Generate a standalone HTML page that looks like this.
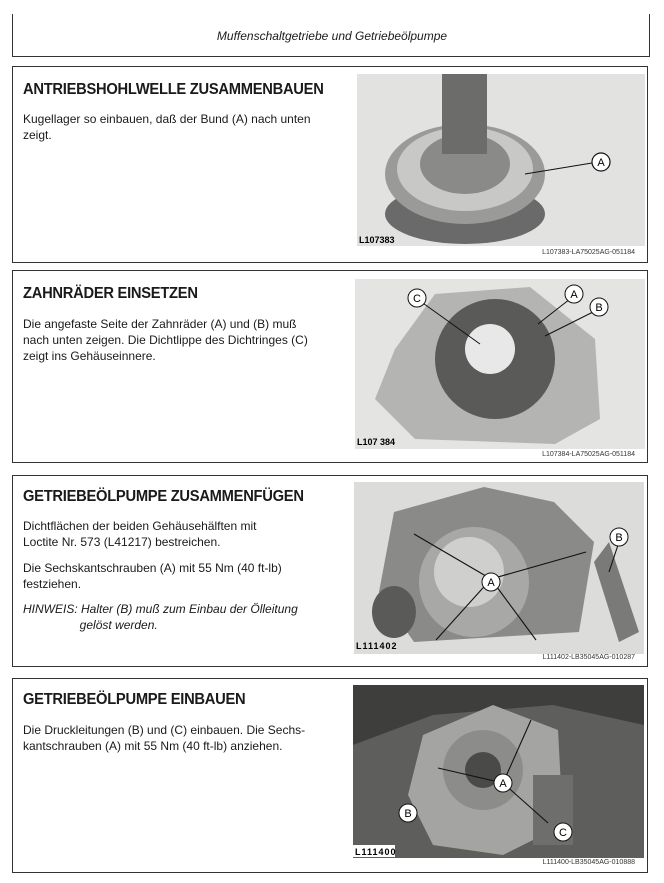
<!DOCTYPE html>
<html><head><meta charset="utf-8"><style>
body{margin:0;width:664px;height:883px;background:#fff;position:relative;overflow:hidden;font-family:"Liberation Sans",Arial,sans-serif;color:#1a1a1a}
.a{position:absolute}
.box{position:absolute;border:1.5px solid #333;left:12px;width:634px}
h2{position:absolute;left:10px;margin:0;font-size:16px;font-weight:bold;letter-spacing:-0.3px;transform:scaleX(0.92);transform-origin:left;white-space:nowrap}
p{position:absolute;left:10px;margin:0;font-size:12px;line-height:16px;width:292px}
.cap{position:absolute;right:12px;font-size:7px;color:#333}
.ph{position:absolute}
</style></head><body>
<div class="a" style="left:12px;top:14px;width:636px;height:42px;border:1.5px solid #333;border-top:none"></div>
<div class="a" style="left:0;width:664px;top:29px;text-align:center;font-style:italic;font-size:12px">Muffenschaltgetriebe und Getriebeölpumpe</div>

<div class="box" style="top:66px;height:195px">
<h2 style="top:14px">ANTRIEBSHOHLWELLE ZUSAMMENBAUEN</h2>
<p style="top:44px">Kugellager so einbauen, daß der Bund (A) nach unten zeigt.</p>
<div class="cap" style="top:182px">L107383-LA75025AG-051184</div>
</div>
<svg class="ph" style="left:357px;top:74px" width="288" height="172">
<rect width="288" height="172" fill="#e2e2e0"/>
<ellipse cx="108" cy="140" rx="80" ry="30" fill="#6a6a6a"/>
<ellipse cx="108" cy="100" rx="80" ry="50" fill="#9a9a98"/>
<ellipse cx="108" cy="95" rx="68" ry="42" fill="#c8c8c6"/>
<ellipse cx="108" cy="90" rx="45" ry="30" fill="#8a8a88"/>
<rect x="85" y="0" width="45" height="80" fill="#6c6c6a"/>
<line x1="168" y1="100" x2="235" y2="89" stroke="#111" stroke-width="1"/>
<circle cx="244" cy="88" r="9" fill="#fff" stroke="#111" stroke-width="1.2"/>
<text x="244" y="92" font-size="11" text-anchor="middle" font-family="Liberation Sans">A</text>
<text x="2" y="169" font-size="9" font-weight="bold" font-family="Liberation Sans">L107383</text>
</svg>

<div class="box" style="top:270px;height:191px">
<h2 style="top:14px">ZAHNRÄDER EINSETZEN</h2>
<p style="top:45px">Die angefaste Seite der Zahnräder (A) und (B) muß nach unten zeigen. Die Dichtlippe des Dichtringes (C) zeigt ins Gehäuseinnere.</p>
<div class="cap" style="top:180px">L107384-LA75025AG-051184</div>
</div>
<svg class="ph" style="left:355px;top:279px" width="290" height="170">
<rect width="290" height="170" fill="#e4e4e2"/>
<path d="M40,70 L80,15 L175,8 L240,60 L245,140 L200,165 L60,160 L20,120 Z" fill="#b4b4b2"/>
<circle cx="140" cy="80" r="60" fill="#5a5a58"/>
<circle cx="135" cy="70" r="25" fill="#e8e8e8"/>
<line x1="65" y1="22" x2="125" y2="65" stroke="#111"/>
<line x1="215" y1="20" x2="183" y2="45" stroke="#111"/>
<line x1="240" y1="32" x2="190" y2="57" stroke="#111"/>
<g font-family="Liberation Sans" font-size="11" text-anchor="middle">
<circle cx="62" cy="19" r="9" fill="#fff" stroke="#111"/><text x="62" y="23">C</text>
<circle cx="219" cy="15" r="9" fill="#fff" stroke="#111"/><text x="219" y="19">A</text>
<circle cx="244" cy="28" r="9" fill="#fff" stroke="#111"/><text x="244" y="32">B</text>
</g>
<text x="2" y="166" font-size="9" font-weight="bold" font-family="Liberation Sans">L107 384</text>
</svg>

<div class="box" style="top:475px;height:190px">
<h2 style="top:12px">GETRIEBEÖLPUMPE ZUSAMMENFÜGEN</h2>
<p style="top:42px">Dichtflächen der beiden Gehäusehälften mit<br>Loctite Nr. 573 (L41217) bestreichen.</p>
<p style="top:84px">Die Sechskantschrauben (A) mit 55 Nm (40 ft-lb) festziehen.</p>
<p style="top:125px;font-style:italic;width:330px">HINWEIS: Halter (B) muß zum Einbau der Ölleitung<br>&nbsp;&nbsp;&nbsp;&nbsp;&nbsp;&nbsp;&nbsp;&nbsp;&nbsp;&nbsp;&nbsp;&nbsp;&nbsp;&nbsp;&nbsp;&nbsp;&nbsp;gelöst werden.</p>
<div class="cap" style="top:178px">L111402-LB35045AG-010287</div>
</div>
<svg class="ph" style="left:354px;top:482px" width="290" height="172">
<rect width="290" height="172" fill="#dcdcda"/>
<path d="M40,30 L130,5 L200,20 L240,60 L225,150 L60,160 L25,110 Z" fill="#8a8a88"/>
<circle cx="120" cy="100" r="55" fill="#a8a8a6"/>
<circle cx="115" cy="90" r="35" fill="#cfcfcd"/>
<ellipse cx="40" cy="130" rx="22" ry="26" fill="#5a5a58"/>
<path d="M240,80 L255,60 L285,150 L265,160 Z" fill="#7a7a78"/>
<g stroke="#111" stroke-width="1.1">
<line x1="137" y1="97" x2="60" y2="52"/><line x1="137" y1="97" x2="232" y2="70"/>
<line x1="137" y1="97" x2="82" y2="158"/><line x1="137" y1="97" x2="182" y2="158"/>
<line x1="265" y1="60" x2="255" y2="90"/>
</g>
<g font-family="Liberation Sans" font-size="11" text-anchor="middle">
<circle cx="137" cy="100" r="9" fill="#fff" stroke="#111"/><text x="137" y="104">A</text>
<circle cx="265" cy="55" r="9" fill="#fff" stroke="#111"/><text x="265" y="59">B</text>
</g>
<text x="2" y="167" font-size="9" font-weight="bold" font-family="Liberation Sans" letter-spacing="1">L111402</text>
</svg>

<div class="box" style="top:678px;height:193px">
<h2 style="top:12px">GETRIEBEÖLPUMPE EINBAUEN</h2>
<p style="top:43px">Die Druckleitungen (B) und (C) einbauen. Die Sechs­kantschrauben (A) mit 55 Nm (40 ft-lb) anziehen.</p>
<div class="cap" style="top:180px">L111400-LB35045AG-010888</div>
</div>
<svg class="ph" style="left:353px;top:685px" width="291" height="173">
<rect width="291" height="173" fill="#5e5e5c"/>
<path d="M0,0 L291,0 L291,40 L200,20 L80,30 L0,60 Z" fill="#3e3e3c"/>
<path d="M70,50 L140,20 L205,45 L210,140 L150,170 L80,160 L55,110 Z" fill="#a4a4a2"/>
<circle cx="130" cy="85" r="40" fill="#8c8c8a"/>
<circle cx="130" cy="85" r="18" fill="#4a4a48"/>
<rect x="180" y="90" width="40" height="70" fill="#6e6e6c"/>
<g stroke="#111" stroke-width="1.1">
<line x1="150" y1="98" x2="85" y2="83"/><line x1="150" y1="98" x2="178" y2="35"/>
<line x1="150" y1="98" x2="195" y2="138"/>
</g>
<g font-family="Liberation Sans" font-size="11" text-anchor="middle">
<circle cx="150" cy="98" r="9" fill="#fff" stroke="#111"/><text x="150" y="102">A</text>
<circle cx="55" cy="128" r="9" fill="#fff" stroke="#111"/><text x="55" y="132">B</text>
<circle cx="210" cy="147" r="9" fill="#fff" stroke="#111"/><text x="210" y="151">C</text>
</g>
<rect x="0" y="160" width="42" height="12" fill="#fff"/>
<text x="2" y="170" font-size="9" font-weight="bold" font-family="Liberation Sans" letter-spacing="1">L111400</text>
</svg>
</body></html>
